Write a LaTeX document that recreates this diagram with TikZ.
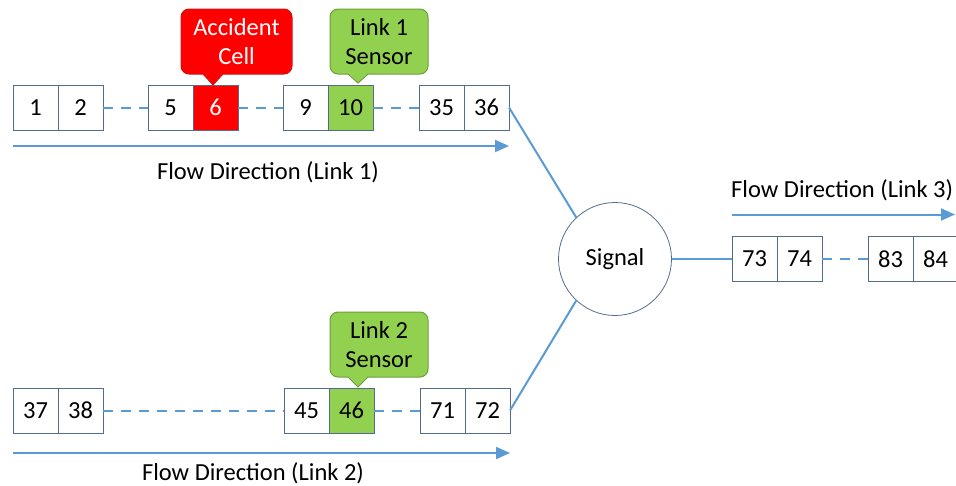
\documentclass[tikz,border=0pt]{standalone}
\usepackage{fontspec}
\setmainfont{Carlito}
\usepackage{xcolor}
\usepackage{tikz}
\usetikzlibrary{arrows.meta, positioning}

\definecolor{flowblue}{RGB}{91,155,213}
\definecolor{cellline}{RGB}{84,108,140}
\definecolor{sensorgreen}{RGB}{146,208,80}
\definecolor{sensorline}{RGB}{110,158,58}
\definecolor{accred}{RGB}{255,0,0}
\definecolor{accline}{RGB}{205,20,20}

\begin{document}
\begin{tikzpicture}[x=1pt, y=-1pt,
			every node/.style={font=\fontsize{24.5}{29}\selectfont},
			cell/.style={draw=cellline, line width=1pt, minimum width=45pt, minimum height=45pt, inner sep=0pt, outer sep=0pt},
			gap/.style={draw=flowblue, line width=2pt, dash pattern=on 10pt off 8pt},
			flow/.style={draw=flowblue, line width=2pt, -{Triangle[length=14pt,width=12pt]}},
			feed/.style={draw=flowblue, line width=2pt},
			sensorbox/.style={fill=sensorgreen, draw=sensorline, line width=1pt, rounded corners=8pt, minimum width=98pt, minimum height=65pt, align=center, inner sep=0pt},
			accbox/.style={sensorbox, fill=accred, draw=accline, minimum width=111pt, text=white}]
			
			\useasboundingbox (0,0) rectangle (956,485);
			\clip (0,0) rectangle (956,485);
			
%			link 1
			\node[cell] (c1) at (35.5,107.5) {1};
			\node[cell, right=0pt of c1] (c2) {2};
			\node[cell, right=45pt of c2] (c5) {5};
			\node[cell, right=0pt of c5, fill=accred, text=white] (c6) {6};
			\node[cell, right=45pt of c6] (c9) {9};
			\node[cell, right=0pt of c9, fill=sensorgreen] (c10) {10};
			\node[cell, right=46pt of c10] (c35) {35};
			\node[cell, right=0pt of c35] (c36) {36};
			\draw[gap] (c2) -- (c5);
			\draw[gap] (c6) -- (c9);
			\draw[gap] (c10) -- (c35);
			\draw[flow] ([yshift=-16pt]c1.south west) -- ([yshift=-16pt]c36.south east);
			\node (flow1) at (268,172) {Flow Direction (Link 1)};
			
%			link 2
			\node[cell] (c37) at (35.5,410.5) {37};
			\node[cell, right=0pt of c37] (c38) {38};
			\node[cell, right=181pt of c38] (c45) {45};
			\node[cell, right=0pt of c45, fill=sensorgreen] (c46) {46};
			\node[cell, right=46pt of c46] (c71) {71};
			\node[cell, right=0pt of c71] (c72) {72};
			\draw[gap] (c38) -- (c45);
			\draw[gap] (c46) -- (c71);
			\draw[flow] ([yshift=-20pt]c37.south west) -- ([yshift=-20pt]c72.south east);
			\node (flow2) at (253,473) {Flow Direction (Link 2)};
			
%			signal and link 3
			\node[circle, draw=cellline, line width=0.8pt, minimum size=113pt, inner sep=0pt] (signal) at (615,259) {Signal};
			\node[cell] (c73) at (754.5,259) {73};
			\node[cell, right=0pt of c73] (c74) {74};
			\node[cell, right=46pt of c74] (c83) {83};
			\node[cell, right=0pt of c83] (c84) {84};
			\draw[gap] (c74) -- (c83);
			\draw[feed] (c36.east) -- (signal.133);
			\draw[feed] (c72.east) -- (signal.227);
			\draw[feed] (signal.east) -- (c73.west);
			\draw[flow] ([yshift=22pt]c73.north west) -- ([yshift=22pt, xshift=-3pt]c84.north east);
			\node[anchor=west, inner sep=0pt] (flow3) at (731,190) {Flow Direction (Link 3)};
			
%			callouts
			\node[accbox] (acc) at (236.5,41.5) {Accident\\Cell};
			\coordinate (acctip) at (213,85);
			\fill[accred] (202,72) -- (acctip) -- (224,72) -- cycle;
			\draw[accline, line width=1pt] (203,74) -- (acctip) -- (223,74);
			
			\node[sensorbox] (sens1) at (379,41.5) {Link 1\\Sensor};
			\coordinate (sens1tip) at (358,83);
			\fill[sensorgreen] (347,72) -- (sens1tip) -- (369,72) -- cycle;
			\draw[sensorline, line width=1pt] (348,74) -- (sens1tip) -- (368,74);
			
			\node[sensorbox] (sens2) at (379,344.5) {Link 2\\Sensor};
			\coordinate (sens2tip) at (358,387);
			\fill[sensorgreen] (347,375) -- (sens2tip) -- (369,375) -- cycle;
			\draw[sensorline, line width=1pt] (348,377) -- (sens2tip) -- (368,377);
		\end{tikzpicture}
\end{document}
